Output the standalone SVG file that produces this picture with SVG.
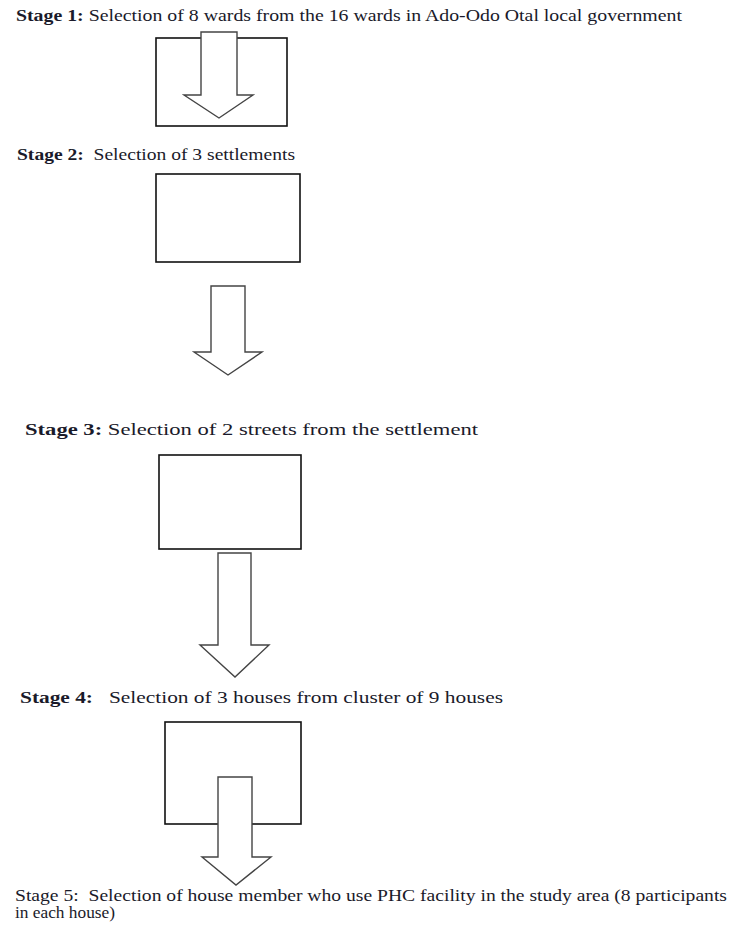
<svg xmlns="http://www.w3.org/2000/svg" width="743" height="932" viewBox="0 0 743 932">
<style>
.t{font-family:"Liberation Serif","Times New Roman",serif;font-size:16px;fill:#1a1a2a;}
.b{font-weight:bold;}
.box{fill:none;stroke:#111;stroke-width:1.6;}
.arr{fill:#fff;stroke:#444;stroke-width:1.4;stroke-linejoin:miter;}
</style>
<rect width="743" height="932" fill="#fff"/>
<g id="stage1">
<text class="t" x="16" y="21" textLength="666" lengthAdjust="spacingAndGlyphs"><tspan class="b">Stage 1:</tspan> Selection of 8 wards from the 16 wards in Ado-Odo Otal local government</text>
<rect class="box" x="156" y="38" width="131" height="88"/>
</g>
<g id="stage2">
<text class="t" x="17" y="160" textLength="278" lengthAdjust="spacingAndGlyphs" xml:space="preserve"><tspan class="b">Stage 2:</tspan>  Selection of 3 settlements</text>
<rect class="box" x="156" y="174" width="144" height="88"/>
</g>
<g id="stage3">
<text class="t" x="25" y="435" textLength="453" lengthAdjust="spacingAndGlyphs"><tspan class="b">Stage 3:</tspan> Selection of 2 streets from the settlement</text>
<rect class="box" x="159" y="455" width="142" height="94"/>
</g>
<g id="stage4">
<text class="t" x="20" y="703" textLength="483" lengthAdjust="spacingAndGlyphs" xml:space="preserve"><tspan class="b">Stage 4:</tspan>   Selection of 3 houses from cluster of 9 houses</text>
<rect class="box" x="165" y="722" width="136" height="102"/>
</g>
<g id="stage5">
<text class="t" x="15" y="901" textLength="712" lengthAdjust="spacingAndGlyphs" xml:space="preserve">Stage 5:  Selection of house member who use PHC facility in the study area (8 participants</text>
<text class="t" x="15" y="918" textLength="100" lengthAdjust="spacingAndGlyphs">in each house)</text>
</g>
<g id="connectors">
<polygon class="arr" points="201,32 237,32 237,95 253,95 219,118 184,95 201,95"/>
<polygon class="arr" points="211,286 245,286 245,352 262,352 228,375 194,352 211,352"/>
<polygon class="arr" points="218,553 251,553 251,645 269,645 235,677 200,645 218,645"/>
<polygon class="arr" points="218,777 252,777 252,857 271,857 236,885 202,857 218,857"/>
</g>
</svg>
